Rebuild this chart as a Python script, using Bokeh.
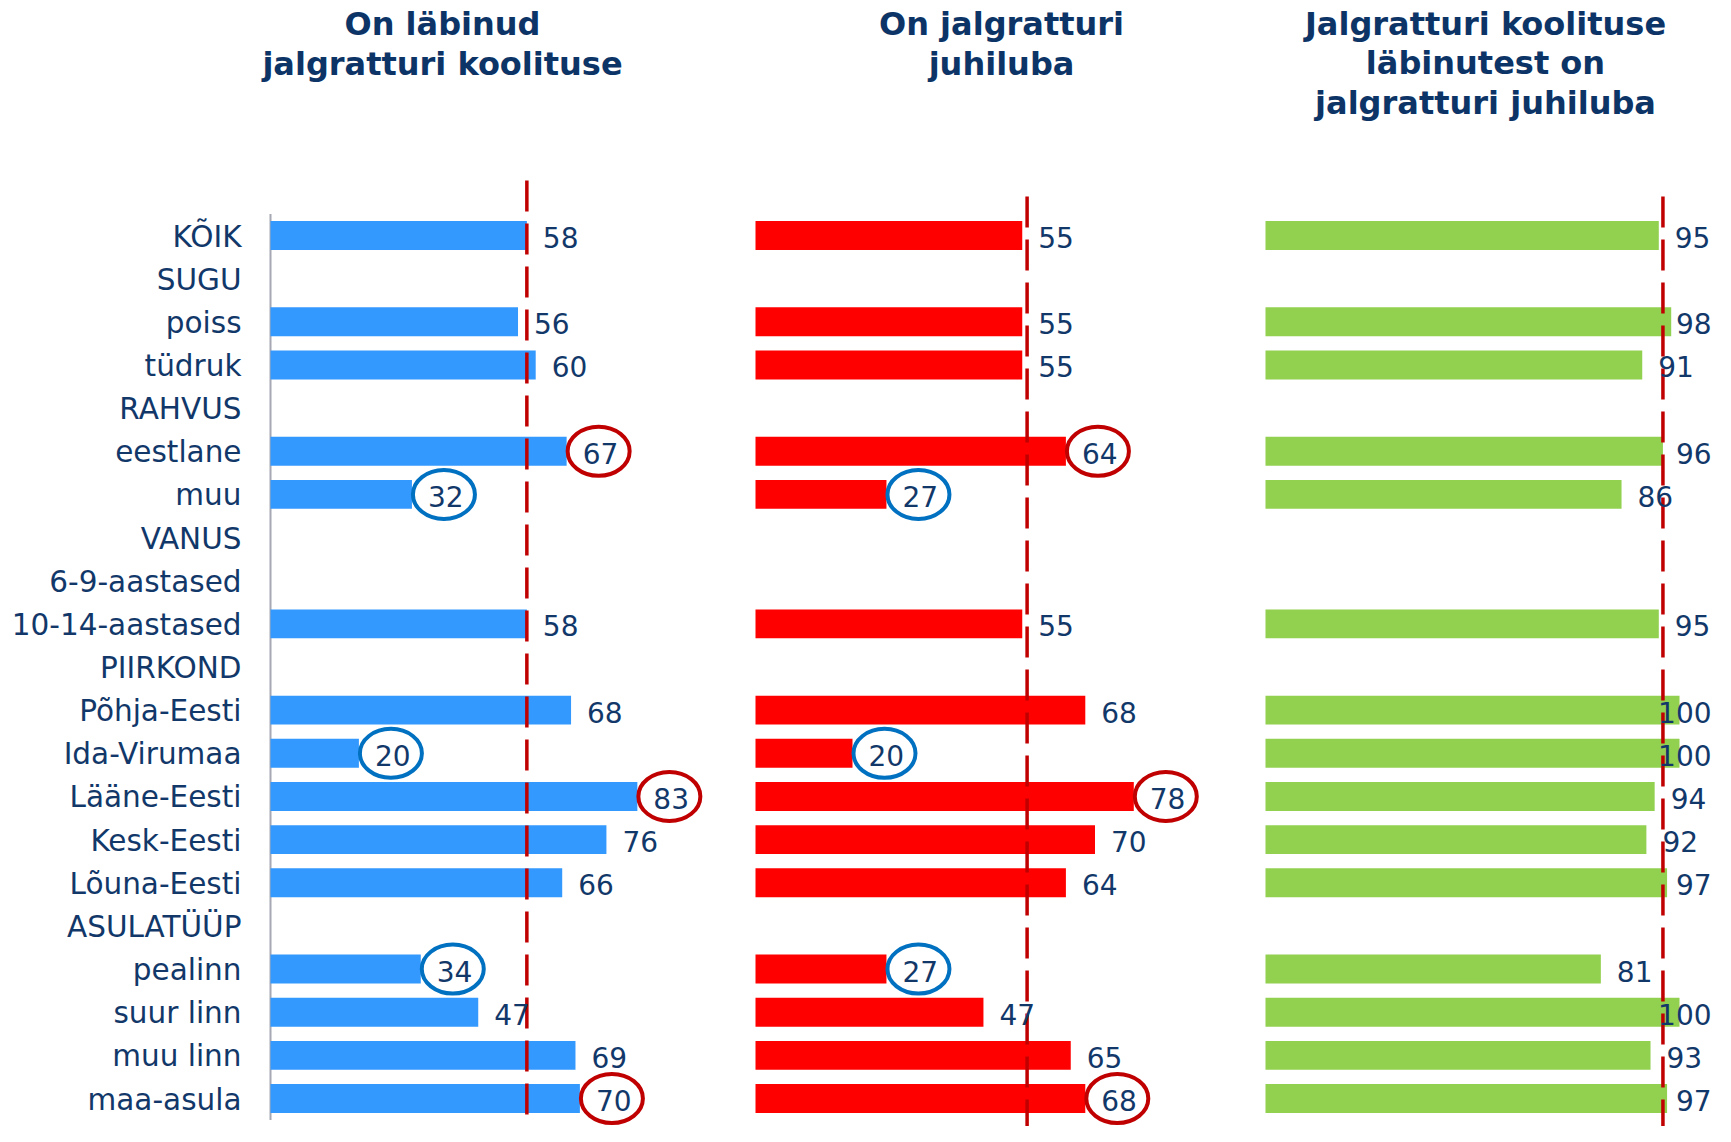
from bokeh.plotting import figure
from bokeh.models import Range1d, ColumnDataSource, Label
from bokeh.core.properties import value
from bokeh.embed import file_html
from bokeh.resources import INLINE

# ---------------- data ----------------
categories = ["KÕIK", "SUGU", "poiss", "tüdruk", "RAHVUS", "eestlane", "muu",
              "VANUS", "6-9-aastased", "10-14-aastased", "PIIRKOND", "Põhja-Eesti",
              "Ida-Virumaa", "Lääne-Eesti", "Kesk-Eesti", "Lõuna-Eesti", "ASULATÜÜP",
              "pealinn", "suur linn", "muu linn", "maa-asula"]

koolitus = [58, None, 56, 60, None, 67, 32, None, None, 58, None, 68, 20, 83, 76, 66,
            None, 34, 47, 69, 70]
juhiluba = [55, None, 55, 55, None, 64, 27, None, None, 55, None, 68, 20, 78, 70, 64,
            None, 27, 47, 65, 68]
osakaal = [95, None, 98, 91, None, 96, 86, None, None, 95, None, 100, 100, 94, 92, 97,
           None, 81, 100, 93, 97]

# significance marks: "high" = red circle, "low" = blue circle
koolitus_mark = [None, None, None, None, None, "high", "low", None, None, None, None,
                 None, "low", "high", None, None, None, "low", None, None, "high"]
juhiluba_mark = [None, None, None, None, None, "high", "low", None, None, None, None,
                 None, "low", "high", None, None, None, "low", None, None, "high"]
osakaal_mark = [None] * len(categories)

reference = [58, 56, 96]

titles = ["On läbinud\njalgratturi koolituse",
          "On jalgratturi\njuhiluba",
          "Jalgratturi koolituse\nläbinutest on\njalgratturi juhiluba"]

# ---------------- style / layout ----------------
W, H = 1715, 1126
ROW0_PX = 235.0
ROW_PX = 43.15
panel_zero_px = [270, 755, 1265]
panel_scale = [4.42, 4.85, 4.14]
title_px = [(442, 43.5), (1001, 43.5), (1485, 63)]
line_top_px = [180, 196, 196]
bar_colors = ["#3399FF", "#FF0000", "#92D050"]
TEXT_COLOR = "#12386A"
TITLE_COLOR = "#0D3466"
FONT = "DejaVu Sans"
LABEL_SIZE = 28
DIGIT_W = 0.636 * LABEL_SIZE
mark_colors = {"high": "#C00000", "low": "#0070C0"}


def px_to_row(py):
    return (py - ROW0_PX) / ROW_PX


y_bottom = px_to_row(H)
y_top = px_to_row(0)

ranges = []
for z, s in zip(panel_zero_px, panel_scale):
    ranges.append(Range1d((0 - z) / s, (W - z) / s))

p = figure(width=W, height=H, output_backend="svg", toolbar_location=None,
           x_range=ranges[0], y_range=Range1d(y_bottom, y_top),
           x_axis_location=None, y_axis_location=None,
           min_border_left=0, min_border_right=0,
           min_border_top=0, min_border_bottom=0)
p.extra_x_ranges = {"p2": ranges[1], "p3": ranges[2]}
p.outline_line_color = None
p.grid.visible = False
p.background_fill_color = "white"
p.border_fill_color = "white"

# category labels and axis line of the first panel
cat_src = ColumnDataSource(dict(x=[0] * len(categories), y=list(range(len(categories))),
                                t=categories))
p.text(x="x", y="y", text="t", source=cat_src, x_offset=-29, y_offset=1,
       text_align="right", text_baseline="middle", text_font=value(FONT),
       text_font_size="29.5px", text_color=TEXT_COLOR)
p.segment(x0=[0], x1=[0], y0=[-0.5], y1=[len(categories) - 0.5],
          line_color="#A6A8B4", line_width=2)

series = [koolitus, juhiluba, osakaal]
marks = [koolitus_mark, juhiluba_mark, osakaal_mark]
range_names = ["default", "p2", "p3"]

for k in range(3):
    vals = series[k]
    rows = [i for i, v in enumerate(vals) if v is not None]
    vv = [vals[i] for i in rows]
    # keep labels inside the canvas: pull them left when they would overflow
    offs = []
    for v in vv:
        end_px = panel_zero_px[k] + v * panel_scale[k]
        room = W - 4 - end_px - len(str(v)) * DIGIT_W
        offs.append(min(16, room))
    src = ColumnDataSource(dict(y=rows, v=vv, lab=[str(v) for v in vv], off=offs))
    rn = range_names[k]
    p.hbar(y="y", left=0, right="v", height=0.67, source=src,
           fill_color=bar_colors[k], line_color=None, x_range_name=rn)
    # reference dashed line
    p.segment(x0=[reference[k]], x1=[reference[k]], y0=[px_to_row(line_top_px[k])],
              y1=[y_bottom], line_color="#C00000", line_width=3.5,
              line_dash="31 12", x_range_name=rn)
    p.text(x="v", y="y", text="lab", source=src, x_offset="off", y_offset=2,
           text_align="left", text_baseline="middle", text_font=value(FONT),
           text_font_size=f"{LABEL_SIZE}px", text_color=TEXT_COLOR, x_range_name=rn)
    # circles
    for kind in ("high", "low"):
        mr = [i for i, m in enumerate(marks[k]) if m == kind]
        if not mr:
            continue
        ex = [vals[i] + 32 / panel_scale[k] for i in mr]
        p.ellipse(x=ex, y=mr, width=62, height=49, width_units="screen",
                  height_units="screen", fill_color=None,
                  line_color=mark_colors[kind], line_width=4, x_range_name=rn)
    # title
    tx = (title_px[k][0] - panel_zero_px[k]) / panel_scale[k]
    ty = px_to_row(title_px[k][1])
    p.add_layout(Label(x=tx, y=ty, x_range_name=rn, text=titles[k],
                       text_align="center", text_baseline="middle",
                       text_font=FONT, text_font_style="bold",
                       text_font_size="32px", text_color=TITLE_COLOR,
                       text_line_height=1.05))

open("out.html", "w").write(file_html(p, INLINE))
